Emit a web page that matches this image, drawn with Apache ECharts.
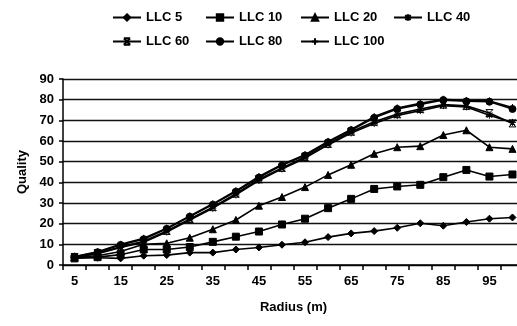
<!DOCTYPE html>
<html>
<head>
<meta charset="utf-8">
<script src="https://cdn.jsdelivr.net/npm/echarts@6/dist/echarts.min.js"></script>
<style>
html, body { margin: 0; padding: 0; background: #fff; }
#chart { width: 517px; height: 326px; }
</style>
</head>
<body>
<div id="chart"></div>
<script>
var radius = ['5','10','15','20','25','30','35','40','45','50','55','60','65','70','75','80','85','90','95','100'];

var llc5   = [3.5, 3.5, 3.2, 4.5, 4.8, 6, 6, 7.5, 8.5, 9.8, 11, 13.5, 15.3, 16.4, 18, 20.2, 19, 20.8, 22.4, 23];
var llc10  = [3.2, 3.8, 5, 7.5, 7.5, 8.7, 11.2, 13.7, 16.2, 19.6, 22.4, 27.5, 32, 36.8, 38, 38.8, 42.5, 46, 42.8, 43.8];
var llc20  = [3.8, 4.5, 6.5, 10, 10.5, 13.2, 17.3, 21.8, 28.7, 32.9, 37.7, 43.6, 48.5, 53.8, 57, 57.5, 62.9, 65.2, 57, 56.2];
var llc40  = [3.8, 5.5, 8.5, 11, 16, 21.8, 27.5, 33.9, 40.9, 46.5, 51.7, 58.1, 63.9, 68.5, 72.3, 74.7, 77.1, 76.5, 72.5, 69];
var llc60  = [3.9, 5.7, 8.8, 11.5, 16.5, 22.3, 28, 34.5, 41.5, 47, 52.3, 58.6, 64.5, 69.3, 73, 75.5, 77.6, 77, 73.5, 68.5];
var llc80  = [4, 6.2, 9.7, 12.5, 17.5, 23.4, 29.2, 35.5, 42.3, 48.2, 53, 59.4, 65.2, 71.2, 75.5, 77.7, 79.8, 79.2, 79, 75.5];
var llc100 = [4.1, 6.4, 10, 12.9, 17.8, 23.7, 29.6, 35.9, 42.8, 48.6, 53.4, 59.8, 65.6, 71.8, 76, 78.2, 80.2, 79.6, 79.4, 76.2];

var yTicks = [0, 10, 20, 30, 40, 50, 60, 70, 80, 90];

var names = ['LLC 5', 'LLC 10', 'LLC 20', 'LLC 40', 'LLC 60', 'LLC 80', 'LLC 100'];
var legendLeft = [112, 205, 300, 393, 112, 205, 300];
var legendTop  = [11, 11, 11, 11, 35, 35, 35];

var font = 'Liberation Sans, Arial, sans-serif';

function line(name, data, symbol) {
	return {
		name: name,
		type: 'line',
		data: data,
		symbol: symbol,
		symbolSize: 7,
		showSymbol: true,
		lineStyle: { color: '#000', width: 1.6 },
		itemStyle: { color: '#000', borderColor: '#000', borderWidth: 1 },
		animation: false
	};
}

// one legend per item so the two rows line up like the original
var legends = [];
for (var i = 0; i < names.length; i++) {
	legends.push({
		data: [names[i]],
		left: legendLeft[i],
		top: legendTop[i],
		padding: 0,
		itemWidth: 28,
		itemHeight: 8,
		itemGap: 5,
		textStyle: { fontFamily: font, fontWeight: 'bold', fontSize: 13, color: '#000' }
	});
}

var myChart = echarts.init(document.getElementById('chart'));
var option = {
	backgroundColor: '#fff',
	animation: false,
	legend: legends,
	grid: {
		left: 63,
		top: 79,
		width: 461,
		height: 186,
		outerBoundsMode: 'none',
		containLabel: false
	},
	xAxis: {
		type: 'category',
		data: radius,
		boundaryGap: true,
		name: 'Radius (m)',
		nameLocation: 'middle',
		nameGap: 36,
		nameTextStyle: { fontFamily: font, fontWeight: 'bold', fontSize: 13, color: '#000' },
		axisLine: { lineStyle: { color: '#000', width: 1.5 } },
		axisTick: { show: true, interval: 0, length: 5, lineStyle: { color: '#000', width: 1.5 } },
		axisLabel: { interval: 1, margin: 10, fontFamily: font, fontWeight: 'bold', fontSize: 13, color: '#000' },
		splitLine: { show: false }
	},
	yAxis: {
		type: 'value',
		min: yTicks[0],
		max: yTicks[yTicks.length - 1],
		interval: 10,
		name: 'Quality',
		nameLocation: 'middle',
		nameGap: 34,
		nameTextStyle: { fontFamily: font, fontWeight: 'bold', fontSize: 13, color: '#000' },
		axisLine: { show: true, lineStyle: { color: '#000', width: 1.5 } },
		axisTick: { show: true, length: 4, lineStyle: { color: '#000', width: 1.5 } },
		axisLabel: { margin: 9, fontFamily: font, fontWeight: 'bold', fontSize: 13, color: '#000' },
		splitLine: { show: true, lineStyle: { color: '#111', width: 1.3 } }
	},
	series: [
		line('LLC 5', llc5, 'diamond'),
		line('LLC 10', llc10, 'rect'),
		line('LLC 20', llc20, 'triangle'),
		line('LLC 40', llc40, 'path://M0,5 L10,5 M5,0 L5,10 M1,1 L9,9 M9,1 L1,9'),
		line('LLC 60', llc60, 'path://M0,0 L10,0 M0,10 L10,10 M0,0 L10,10 M10,0 L0,10'),
		line('LLC 80', llc80, 'circle'),
		line('LLC 100', llc100, 'path://M5,0 L5,10 M0,5 L10,5')
	]
};
myChart.setOption(option);
</script>
</body>
</html>
